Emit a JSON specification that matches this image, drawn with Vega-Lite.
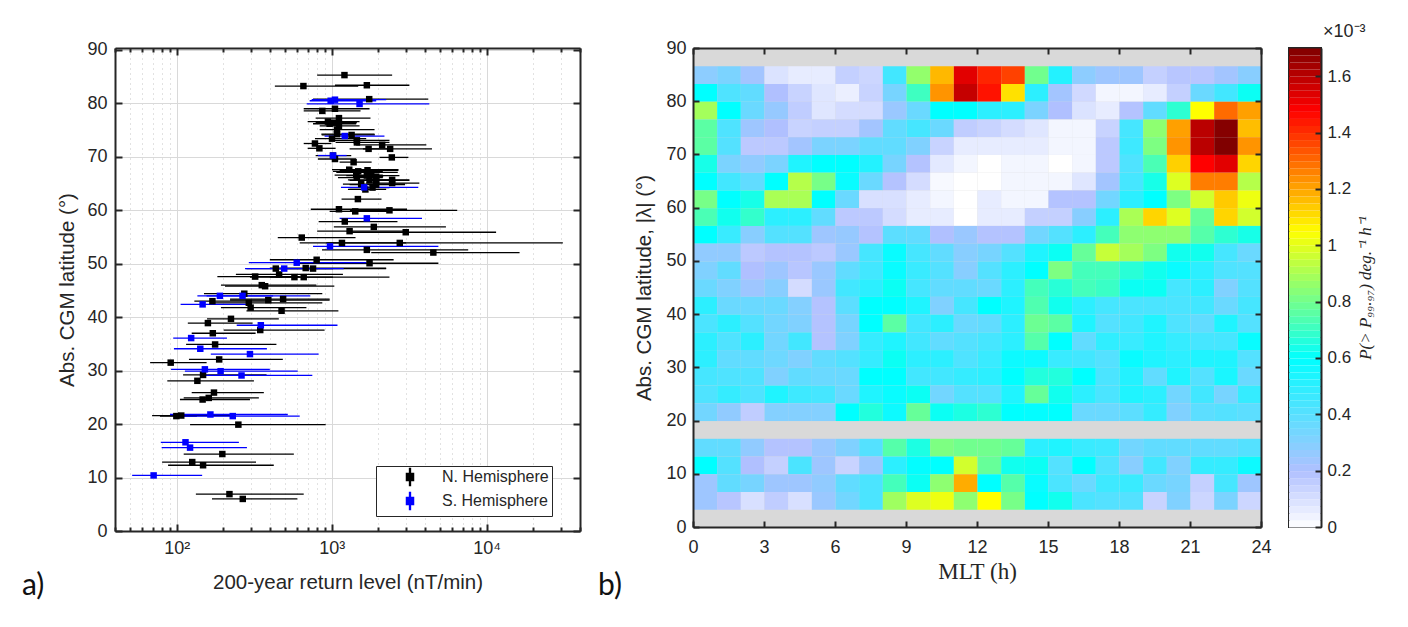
{"$schema":"https://vega.github.io/schema/vega-lite/v6.json","background":"white","padding":{"left":21,"top":22,"right":2,"bottom":2},"spacing":16,
"config":{"font":"Liberation Sans","view":{"stroke":null},"axis":{"labelFont":"Liberation Sans","titleFont":"Liberation Sans","labelFontSize":18,"titleFontSize":20.5,"labelColor":"#262626","titleColor":"#262626","titleFontWeight":"normal","domainColor":"#262626","domainWidth":2,"tickColor":"#262626","tickWidth":2,"labelFlush":false,"labelOverlap":false,"labelBound":false}},
"datasets":{
"pts":[
{"hemi":"N. Hemisphere","lat":85.3,"rl":1209,"lo":806,"hi":2455},{"hemi":"N. Hemisphere","lat":83.25,"rl":657,"lo":430,"hi":1483},{"hemi":"N. Hemisphere","lat":83.4,"rl":1686,"lo":1050,"hi":3172},{"hemi":"N. Hemisphere","lat":80.8,"rl":1746,"lo":758,"hi":4200},{"hemi":"N. Hemisphere","lat":79,"rl":1050,"lo":660,"hi":1755},{"hemi":"N. Hemisphere","lat":78.6,"rl":870,"lo":660,"hi":1535},{"hemi":"N. Hemisphere","lat":77.25,"rl":1114,"lo":788,"hi":1780},{"hemi":"N. Hemisphere","lat":76.6,"rl":946,"lo":700,"hi":1513},{"hemi":"N. Hemisphere","lat":76.4,"rl":1020,"lo":788,"hi":1454},{"hemi":"N. Hemisphere","lat":76.2,"rl":970,"lo":758,"hi":1440},{"hemi":"N. Hemisphere","lat":75.8,"rl":1114,"lo":837,"hi":1513},{"hemi":"N. Hemisphere","lat":75.1,"rl":1082,"lo":837,"hi":1890},{"hemi":"N. Hemisphere","lat":74.25,"rl":1082,"lo":858,"hi":1890},{"hemi":"N. Hemisphere","lat":74.1,"rl":1344,"lo":862,"hi":1899},{"hemi":"N. Hemisphere","lat":73.4,"rl":1005,"lo":780,"hi":1670},{"hemi":"N. Hemisphere","lat":73.1,"rl":1454,"lo":970,"hi":2359},{"hemi":"N. Hemisphere","lat":72.7,"rl":1454,"lo":1060,"hi":2359},{"hemi":"N. Hemisphere","lat":72.5,"rl":780,"lo":660,"hi":995},{"hemi":"N. Hemisphere","lat":72.25,"rl":2117,"lo":1440,"hi":4080},{"hemi":"N. Hemisphere","lat":71.6,"rl":833,"lo":700,"hi":1060},{"hemi":"N. Hemisphere","lat":71.5,"rl":1730,"lo":1305,"hi":2479},{"hemi":"N. Hemisphere","lat":71.5,"rl":2383,"lo":1590,"hi":4436},{"hemi":"N. Hemisphere","lat":70.25,"rl":1020,"lo":788,"hi":1337},{"hemi":"N. Hemisphere","lat":69.9,"rl":2443,"lo":2035,"hi":3125},{"hemi":"N. Hemisphere","lat":69.6,"rl":1050,"lo":816,"hi":1440},{"hemi":"N. Hemisphere","lat":69,"rl":1385,"lo":1125,"hi":1810},{"hemi":"N. Hemisphere","lat":67.6,"rl":1298,"lo":1005,"hi":2695},{"hemi":"N. Hemisphere","lat":67.3,"rl":1483,"lo":1020,"hi":2138},{"hemi":"N. Hemisphere","lat":67.5,"rl":1703,"lo":1125,"hi":2695},{"hemi":"N. Hemisphere","lat":67.1,"rl":1800,"lo":1071,"hi":2670},{"hemi":"N. Hemisphere","lat":66.6,"rl":1440,"lo":1045,"hi":2138},{"hemi":"N. Hemisphere","lat":66.5,"rl":1686,"lo":1242,"hi":2736},{"hemi":"N. Hemisphere","lat":66.3,"rl":1937,"lo":1371,"hi":2150},{"hemi":"N. Hemisphere","lat":66.1,"rl":1454,"lo":1098,"hi":2138},{"hemi":"N. Hemisphere","lat":65.7,"rl":1755,"lo":1273,"hi":2479},{"hemi":"N. Hemisphere","lat":65.6,"rl":1937,"lo":1305,"hi":3172},{"hemi":"N. Hemisphere","lat":65.7,"rl":2455,"lo":1670,"hi":3172},{"hemi":"N. Hemisphere","lat":65.1,"rl":2455,"lo":1670,"hi":3678},{"hemi":"N. Hemisphere","lat":64.9,"rl":1550,"lo":1182,"hi":2975},{"hemi":"N. Hemisphere","lat":64.8,"rl":1937,"lo":1305,"hi":2975},{"hemi":"N. Hemisphere","lat":63.9,"rl":1650,"lo":1273,"hi":2246},{"hemi":"N. Hemisphere","lat":64.25,"rl":1834,"lo":1305,"hi":2359},{"hemi":"N. Hemisphere","lat":62.1,"rl":1476,"lo":1158,"hi":2096},{"hemi":"N. Hemisphere","lat":60.2,"rl":1114,"lo":733,"hi":3064},{"hemi":"N. Hemisphere","lat":59.8,"rl":1419,"lo":970,"hi":2359},{"hemi":"N. Hemisphere","lat":60,"rl":2359,"lo":1311,"hi":6454},{"hemi":"N. Hemisphere","lat":57.9,"rl":1215,"lo":824,"hi":2657},{"hemi":"N. Hemisphere","lat":56.9,"rl":1870,"lo":1033,"hi":5458},{"hemi":"N. Hemisphere","lat":56.1,"rl":1305,"lo":806,"hi":3020},{"hemi":"N. Hemisphere","lat":55.9,"rl":3005,"lo":1337,"hi":11500},{"hemi":"N. Hemisphere","lat":54.9,"rl":641,"lo":449,"hi":1425},{"hemi":"N. Hemisphere","lat":53.9,"rl":1165,"lo":622,"hi":3020},{"hemi":"N. Hemisphere","lat":53.9,"rl":2750,"lo":923,"hi":31000},{"hemi":"N. Hemisphere","lat":52.6,"rl":1686,"lo":866,"hi":7600},{"hemi":"N. Hemisphere","lat":52.1,"rl":4527,"lo":1800,"hi":16300},{"hemi":"N. Hemisphere","lat":50.75,"rl":800,"lo":399,"hi":2510},{"hemi":"N. Hemisphere","lat":50.1,"rl":1755,"lo":592,"hi":4880},{"hemi":"N. Hemisphere","lat":49.1,"rl":436,"lo":282,"hi":1020},{"hemi":"N. Hemisphere","lat":49.2,"rl":680,"lo":399,"hi":2246},{"hemi":"N. Hemisphere","lat":49.1,"rl":758,"lo":440,"hi":2246},{"hemi":"N. Hemisphere","lat":47.6,"rl":321,"lo":183,"hi":622},{"hemi":"N. Hemisphere","lat":48,"rl":458,"lo":241,"hi":1182},{"hemi":"N. Hemisphere","lat":47.5,"rl":575,"lo":297,"hi":2359},{"hemi":"N. Hemisphere","lat":47.5,"rl":660,"lo":399,"hi":1020},{"hemi":"N. Hemisphere","lat":46,"rl":354,"lo":193,"hi":796},{"hemi":"N. Hemisphere","lat":45.8,"rl":372,"lo":205,"hi":1040},{"hemi":"N. Hemisphere","lat":44.4,"rl":273,"lo":150,"hi":870},{"hemi":"N. Hemisphere","lat":43.2,"rl":390,"lo":221,"hi":970},{"hemi":"N. Hemisphere","lat":43.4,"rl":486,"lo":221,"hi":970},{"hemi":"N. Hemisphere","lat":43,"rl":170,"lo":130,"hi":380},{"hemi":"N. Hemisphere","lat":42.7,"rl":292,"lo":172,"hi":870},{"hemi":"N. Hemisphere","lat":41.8,"rl":300,"lo":193,"hi":687},{"hemi":"N. Hemisphere","lat":41.2,"rl":475,"lo":282,"hi":1105},{"hemi":"N. Hemisphere","lat":39.7,"rl":224,"lo":157,"hi":456},{"hemi":"N. Hemisphere","lat":38.9,"rl":159,"lo":118,"hi":309},{"hemi":"N. Hemisphere","lat":37.6,"rl":346,"lo":201,"hi":900},{"hemi":"N. Hemisphere","lat":37,"rl":171,"lo":125,"hi":323},{"hemi":"N. Hemisphere","lat":34.9,"rl":177,"lo":115,"hi":440},{"hemi":"N. Hemisphere","lat":32.1,"rl":188,"lo":120,"hi":484},{"hemi":"N. Hemisphere","lat":31.5,"rl":91.5,"lo":67.4,"hi":156},{"hemi":"N. Hemisphere","lat":29.2,"rl":148,"lo":110,"hi":380},{"hemi":"N. Hemisphere","lat":28.1,"rl":136,"lo":87,"hi":315},{"hemi":"N. Hemisphere","lat":25.9,"rl":174,"lo":125,"hi":365},{"hemi":"N. Hemisphere","lat":24.9,"rl":161,"lo":111,"hi":339},{"hemi":"N. Hemisphere","lat":24.6,"rl":147,"lo":105,"hi":297},{"hemi":"N. Hemisphere","lat":21.6,"rl":107,"lo":69.4,"hi":232},{"hemi":"N. Hemisphere","lat":21.5,"rl":99.5,"lo":78,"hi":135},{"hemi":"N. Hemisphere","lat":19.9,"rl":250,"lo":122,"hi":915},{"hemi":"N. Hemisphere","lat":14.4,"rl":197,"lo":111,"hi":570},{"hemi":"N. Hemisphere","lat":12.9,"rl":126,"lo":80.5,"hi":325},{"hemi":"N. Hemisphere","lat":12.3,"rl":148,"lo":88,"hi":423},{"hemi":"N. Hemisphere","lat":6.9,"rl":219,"lo":133,"hi":660},{"hemi":"N. Hemisphere","lat":6,"rl":267,"lo":169,"hi":600},
{"hemi":"S. Hemisphere","lat":80.7,"rl":1050,"lo":743,"hi":2246},{"hemi":"S. Hemisphere","lat":80.5,"rl":985,"lo":721,"hi":1937},{"hemi":"S. Hemisphere","lat":79.9,"rl":1513,"lo":690,"hi":4265},{"hemi":"S. Hemisphere","lat":73.9,"rl":1215,"lo":900,"hi":2190},{"hemi":"S. Hemisphere","lat":70.25,"rl":1020,"lo":816,"hi":1248},{"hemi":"S. Hemisphere","lat":64.3,"rl":1620,"lo":1148,"hi":3620},{"hemi":"S. Hemisphere","lat":58.5,"rl":1686,"lo":1125,"hi":3825},{"hemi":"S. Hemisphere","lat":53.25,"rl":975,"lo":758,"hi":4880},{"hemi":"S. Hemisphere","lat":50.2,"rl":595,"lo":292,"hi":1670},{"hemi":"S. Hemisphere","lat":49.1,"rl":494,"lo":276,"hi":1195},{"hemi":"S. Hemisphere","lat":44,"rl":190,"lo":136,"hi":419},{"hemi":"S. Hemisphere","lat":44,"rl":266,"lo":156,"hi":728},{"hemi":"S. Hemisphere","lat":42.4,"rl":147,"lo":106,"hi":282},{"hemi":"S. Hemisphere","lat":38.5,"rl":349,"lo":244,"hi":1090},{"hemi":"S. Hemisphere","lat":36.1,"rl":124,"lo":95,"hi":211},{"hemi":"S. Hemisphere","lat":34.1,"rl":142,"lo":96,"hi":382},{"hemi":"S. Hemisphere","lat":33.1,"rl":297,"lo":166,"hi":824},{"hemi":"S. Hemisphere","lat":30.25,"rl":152,"lo":92,"hi":399},{"hemi":"S. Hemisphere","lat":29.9,"rl":192,"lo":113,"hi":604},{"hemi":"S. Hemisphere","lat":29.1,"rl":262,"lo":141,"hi":750},{"hemi":"S. Hemisphere","lat":21.8,"rl":165,"lo":90.6,"hi":521},{"hemi":"S. Hemisphere","lat":21.5,"rl":230,"lo":100,"hi":622},{"hemi":"S. Hemisphere","lat":16.6,"rl":114,"lo":79,"hi":252},{"hemi":"S. Hemisphere","lat":15.6,"rl":122,"lo":80,"hi":284},{"hemi":"S. Hemisphere","lat":10.4,"rl":71,"lo":51.6,"hi":146}
],
"cells":[
{"mlt":0,"lat":85,"p":0.28},{"mlt":1,"lat":85,"p":0.32},{"mlt":2,"lat":85,"p":0.23},{"mlt":3,"lat":85,"p":0.09},{"mlt":4,"lat":85,"p":0.06},{"mlt":5,"lat":85,"p":0.06},{"mlt":6,"lat":85,"p":0.15},{"mlt":7,"lat":85,"p":0.13},{"mlt":8,"lat":85,"p":0.45},{"mlt":9,"lat":85,"p":0.86},{"mlt":10,"lat":85,"p":1.17},{"mlt":11,"lat":85,"p":1.53},{"mlt":12,"lat":85,"p":1.42},{"mlt":13,"lat":85,"p":1.37},{"mlt":14,"lat":85,"p":0.8},{"mlt":15,"lat":85,"p":0.52},{"mlt":16,"lat":85,"p":0.28},{"mlt":17,"lat":85,"p":0.24},{"mlt":18,"lat":85,"p":0.24},{"mlt":19,"lat":85,"p":0.15},{"mlt":20,"lat":85,"p":0.18},{"mlt":21,"lat":85,"p":0.18},{"mlt":22,"lat":85,"p":0.23},{"mlt":23,"lat":85,"p":0.29},
{"mlt":0,"lat":81.67,"p":0.6},{"mlt":1,"lat":81.67,"p":0.42},{"mlt":2,"lat":81.67,"p":0.38},{"mlt":3,"lat":81.67,"p":0.2},{"mlt":4,"lat":81.67,"p":0.14},{"mlt":5,"lat":81.67,"p":0.08},{"mlt":6,"lat":81.67,"p":0.05},{"mlt":7,"lat":81.67,"p":0.14},{"mlt":8,"lat":81.67,"p":0.33},{"mlt":9,"lat":81.67,"p":0.71},{"mlt":10,"lat":81.67,"p":1.23},{"mlt":11,"lat":81.67,"p":1.58},{"mlt":12,"lat":81.67,"p":1.45},{"mlt":13,"lat":81.67,"p":1.1},{"mlt":14,"lat":81.67,"p":0.5},{"mlt":15,"lat":81.67,"p":0.23},{"mlt":16,"lat":81.67,"p":0.12},{"mlt":17,"lat":81.67,"p":0.03},{"mlt":18,"lat":81.67,"p":0.03},{"mlt":19,"lat":81.67,"p":0.06},{"mlt":20,"lat":81.67,"p":0.15},{"mlt":21,"lat":81.67,"p":0.36},{"mlt":22,"lat":81.67,"p":0.45},{"mlt":23,"lat":81.67,"p":0.62},
{"mlt":0,"lat":78.33,"p":0.89},{"mlt":1,"lat":78.33,"p":0.6},{"mlt":2,"lat":78.33,"p":0.36},{"mlt":3,"lat":78.33,"p":0.26},{"mlt":4,"lat":78.33,"p":0.16},{"mlt":5,"lat":78.33,"p":0.08},{"mlt":6,"lat":78.33,"p":0.11},{"mlt":7,"lat":78.33,"p":0.11},{"mlt":8,"lat":78.33,"p":0.25},{"mlt":9,"lat":78.33,"p":0.36},{"mlt":10,"lat":78.33,"p":0.6},{"mlt":11,"lat":78.33,"p":0.6},{"mlt":12,"lat":78.33,"p":0.5},{"mlt":13,"lat":78.33,"p":0.5},{"mlt":14,"lat":78.33,"p":0.32},{"mlt":15,"lat":78.33,"p":0.2},{"mlt":16,"lat":78.33,"p":0.09},{"mlt":17,"lat":78.33,"p":0.06},{"mlt":18,"lat":78.33,"p":0.19},{"mlt":19,"lat":78.33,"p":0.38},{"mlt":20,"lat":78.33,"p":0.68},{"mlt":21,"lat":78.33,"p":1.05},{"mlt":22,"lat":78.33,"p":1.3},{"mlt":23,"lat":78.33,"p":1.21},
{"mlt":0,"lat":75,"p":0.76},{"mlt":1,"lat":75,"p":0.42},{"mlt":2,"lat":75,"p":0.24},{"mlt":3,"lat":75,"p":0.2},{"mlt":4,"lat":75,"p":0.14},{"mlt":5,"lat":75,"p":0.15},{"mlt":6,"lat":75,"p":0.15},{"mlt":7,"lat":75,"p":0.23},{"mlt":8,"lat":75,"p":0.38},{"mlt":9,"lat":75,"p":0.44},{"mlt":10,"lat":75,"p":0.36},{"mlt":11,"lat":75,"p":0.16},{"mlt":12,"lat":75,"p":0.14},{"mlt":13,"lat":75,"p":0.11},{"mlt":14,"lat":75,"p":0.08},{"mlt":15,"lat":75,"p":0.03},{"mlt":16,"lat":75,"p":0.03},{"mlt":17,"lat":75,"p":0.14},{"mlt":18,"lat":75,"p":0.44},{"mlt":19,"lat":75,"p":0.85},{"mlt":20,"lat":75,"p":1.21},{"mlt":21,"lat":75,"p":1.6},{"mlt":22,"lat":75,"p":1.69},{"mlt":23,"lat":75,"p":1.16},
{"mlt":0,"lat":71.67,"p":0.76},{"mlt":1,"lat":71.67,"p":0.41},{"mlt":2,"lat":71.67,"p":0.17},{"mlt":3,"lat":71.67,"p":0.17},{"mlt":4,"lat":71.67,"p":0.23},{"mlt":5,"lat":71.67,"p":0.32},{"mlt":6,"lat":71.67,"p":0.32},{"mlt":7,"lat":71.67,"p":0.38},{"mlt":8,"lat":71.67,"p":0.38},{"mlt":9,"lat":71.67,"p":0.31},{"mlt":10,"lat":71.67,"p":0.14},{"mlt":11,"lat":71.67,"p":0.06},{"mlt":12,"lat":71.67,"p":0.06},{"mlt":13,"lat":71.67,"p":0.06},{"mlt":14,"lat":71.67,"p":0.06},{"mlt":15,"lat":71.67,"p":0.03},{"mlt":16,"lat":71.67,"p":0.03},{"mlt":17,"lat":71.67,"p":0.17},{"mlt":18,"lat":71.67,"p":0.46},{"mlt":19,"lat":71.67,"p":0.82},{"mlt":20,"lat":71.67,"p":1.23},{"mlt":21,"lat":71.67,"p":1.6},{"mlt":22,"lat":71.67,"p":1.7},{"mlt":23,"lat":71.67,"p":1.23},
{"mlt":0,"lat":68.33,"p":0.64},{"mlt":1,"lat":68.33,"p":0.32},{"mlt":2,"lat":68.33,"p":0.27},{"mlt":3,"lat":68.33,"p":0.32},{"mlt":4,"lat":68.33,"p":0.53},{"mlt":5,"lat":68.33,"p":0.6},{"mlt":6,"lat":68.33,"p":0.6},{"mlt":7,"lat":68.33,"p":0.52},{"mlt":8,"lat":68.33,"p":0.33},{"mlt":9,"lat":68.33,"p":0.19},{"mlt":10,"lat":68.33,"p":0.07},{"mlt":11,"lat":68.33,"p":0.03},{"mlt":12,"lat":68.33,"p":0},{"mlt":13,"lat":68.33,"p":0.03},{"mlt":14,"lat":68.33,"p":0.03},{"mlt":15,"lat":68.33,"p":0},{"mlt":16,"lat":68.33,"p":0.03},{"mlt":17,"lat":68.33,"p":0.17},{"mlt":18,"lat":68.33,"p":0.42},{"mlt":19,"lat":68.33,"p":0.73},{"mlt":20,"lat":68.33,"p":1.13},{"mlt":21,"lat":68.33,"p":1.48},{"mlt":22,"lat":68.33,"p":1.53},{"mlt":23,"lat":68.33,"p":1.12},
{"mlt":0,"lat":65,"p":0.6},{"mlt":1,"lat":65,"p":0.45},{"mlt":2,"lat":65,"p":0.38},{"mlt":3,"lat":65,"p":0.6},{"mlt":4,"lat":65,"p":0.92},{"mlt":5,"lat":65,"p":0.81},{"mlt":6,"lat":65,"p":0.58},{"mlt":7,"lat":65,"p":0.36},{"mlt":8,"lat":65,"p":0.19},{"mlt":9,"lat":65,"p":0.11},{"mlt":10,"lat":65,"p":0.02},{"mlt":11,"lat":65,"p":0},{"mlt":12,"lat":65,"p":0},{"mlt":13,"lat":65,"p":0.03},{"mlt":14,"lat":65,"p":0.03},{"mlt":15,"lat":65,"p":0.03},{"mlt":16,"lat":65,"p":0.08},{"mlt":17,"lat":65,"p":0.23},{"mlt":18,"lat":65,"p":0.44},{"mlt":19,"lat":65,"p":0.64},{"mlt":20,"lat":65,"p":0.99},{"mlt":21,"lat":65,"p":1.27},{"mlt":22,"lat":65,"p":1.27},{"mlt":23,"lat":65,"p":0.92},
{"mlt":0,"lat":61.67,"p":0.81},{"mlt":1,"lat":61.67,"p":0.6},{"mlt":2,"lat":61.67,"p":0.64},{"mlt":3,"lat":61.67,"p":0.9},{"mlt":4,"lat":61.67,"p":0.9},{"mlt":5,"lat":61.67,"p":0.6},{"mlt":6,"lat":61.67,"p":0.36},{"mlt":7,"lat":61.67,"p":0.1},{"mlt":8,"lat":61.67,"p":0.1},{"mlt":9,"lat":61.67,"p":0.06},{"mlt":10,"lat":61.67,"p":0.03},{"mlt":11,"lat":61.67,"p":0},{"mlt":12,"lat":61.67,"p":0.06},{"mlt":13,"lat":61.67,"p":0.03},{"mlt":14,"lat":61.67,"p":0.03},{"mlt":15,"lat":61.67,"p":0.19},{"mlt":16,"lat":61.67,"p":0.19},{"mlt":17,"lat":61.67,"p":0.34},{"mlt":18,"lat":61.67,"p":0.5},{"mlt":19,"lat":61.67,"p":0.6},{"mlt":20,"lat":61.67,"p":0.82},{"mlt":21,"lat":61.67,"p":0.97},{"mlt":22,"lat":61.67,"p":1.14},{"mlt":23,"lat":61.67,"p":1.02},
{"mlt":0,"lat":58.33,"p":0.73},{"mlt":1,"lat":58.33,"p":0.63},{"mlt":2,"lat":58.33,"p":0.69},{"mlt":3,"lat":58.33,"p":0.5},{"mlt":4,"lat":58.33,"p":0.5},{"mlt":5,"lat":58.33,"p":0.38},{"mlt":6,"lat":58.33,"p":0.17},{"mlt":7,"lat":58.33,"p":0.17},{"mlt":8,"lat":58.33,"p":0.11},{"mlt":9,"lat":58.33,"p":0.06},{"mlt":10,"lat":58.33,"p":0.06},{"mlt":11,"lat":58.33,"p":0},{"mlt":12,"lat":58.33,"p":0.06},{"mlt":13,"lat":58.33,"p":0.06},{"mlt":14,"lat":58.33,"p":0.15},{"mlt":15,"lat":58.33,"p":0.15},{"mlt":16,"lat":58.33,"p":0.29},{"mlt":17,"lat":58.33,"p":0.5},{"mlt":18,"lat":58.33,"p":0.9},{"mlt":19,"lat":58.33,"p":1.12},{"mlt":20,"lat":58.33,"p":0.99},{"mlt":21,"lat":58.33,"p":0.78},{"mlt":22,"lat":58.33,"p":1.12},{"mlt":23,"lat":58.33,"p":0.97},
{"mlt":0,"lat":55,"p":0.6},{"mlt":1,"lat":55,"p":0.47},{"mlt":2,"lat":55,"p":0.29},{"mlt":3,"lat":55,"p":0.41},{"mlt":4,"lat":55,"p":0.41},{"mlt":5,"lat":55,"p":0.24},{"mlt":6,"lat":55,"p":0.26},{"mlt":7,"lat":55,"p":0.19},{"mlt":8,"lat":55,"p":0.39},{"mlt":9,"lat":55,"p":0.38},{"mlt":10,"lat":55,"p":0.2},{"mlt":11,"lat":55,"p":0.25},{"mlt":12,"lat":55,"p":0.19},{"mlt":13,"lat":55,"p":0.19},{"mlt":14,"lat":55,"p":0.34},{"mlt":15,"lat":55,"p":0.41},{"mlt":16,"lat":55,"p":0.5},{"mlt":17,"lat":55,"p":0.72},{"mlt":18,"lat":55,"p":0.85},{"mlt":19,"lat":55,"p":0.85},{"mlt":20,"lat":55,"p":0.85},{"mlt":21,"lat":55,"p":0.75},{"mlt":22,"lat":55,"p":0.68},{"mlt":23,"lat":55,"p":0.64},
{"mlt":0,"lat":51.67,"p":0.27},{"mlt":1,"lat":51.67,"p":0.27},{"mlt":2,"lat":51.67,"p":0.17},{"mlt":3,"lat":51.67,"p":0.19},{"mlt":4,"lat":51.67,"p":0.19},{"mlt":5,"lat":51.67,"p":0.17},{"mlt":6,"lat":51.67,"p":0.25},{"mlt":7,"lat":51.67,"p":0.44},{"mlt":8,"lat":51.67,"p":0.58},{"mlt":9,"lat":51.67,"p":0.44},{"mlt":10,"lat":51.67,"p":0.38},{"mlt":11,"lat":51.67,"p":0.29},{"mlt":12,"lat":51.67,"p":0.33},{"mlt":13,"lat":51.67,"p":0.41},{"mlt":14,"lat":51.67,"p":0.53},{"mlt":15,"lat":51.67,"p":0.62},{"mlt":16,"lat":51.67,"p":0.78},{"mlt":17,"lat":51.67,"p":0.95},{"mlt":18,"lat":51.67,"p":0.89},{"mlt":19,"lat":51.67,"p":0.82},{"mlt":20,"lat":51.67,"p":0.63},{"mlt":21,"lat":51.67,"p":0.63},{"mlt":22,"lat":51.67,"p":0.44},{"mlt":23,"lat":51.67,"p":0.36},
{"mlt":0,"lat":48.33,"p":0.31},{"mlt":1,"lat":48.33,"p":0.38},{"mlt":2,"lat":48.33,"p":0.2},{"mlt":3,"lat":48.33,"p":0.24},{"mlt":4,"lat":48.33,"p":0.18},{"mlt":5,"lat":48.33,"p":0.25},{"mlt":6,"lat":48.33,"p":0.38},{"mlt":7,"lat":48.33,"p":0.45},{"mlt":8,"lat":48.33,"p":0.58},{"mlt":9,"lat":48.33,"p":0.47},{"mlt":10,"lat":48.33,"p":0.41},{"mlt":11,"lat":48.33,"p":0.29},{"mlt":12,"lat":48.33,"p":0.41},{"mlt":13,"lat":48.33,"p":0.5},{"mlt":14,"lat":48.33,"p":0.6},{"mlt":15,"lat":48.33,"p":0.82},{"mlt":16,"lat":48.33,"p":0.72},{"mlt":17,"lat":48.33,"p":0.72},{"mlt":18,"lat":48.33,"p":0.67},{"mlt":19,"lat":48.33,"p":0.63},{"mlt":20,"lat":48.33,"p":0.58},{"mlt":21,"lat":48.33,"p":0.5},{"mlt":22,"lat":48.33,"p":0.42},{"mlt":23,"lat":48.33,"p":0.41},
{"mlt":0,"lat":45,"p":0.36},{"mlt":1,"lat":45,"p":0.31},{"mlt":2,"lat":45,"p":0.24},{"mlt":3,"lat":45,"p":0.29},{"mlt":4,"lat":45,"p":0.11},{"mlt":5,"lat":45,"p":0.25},{"mlt":6,"lat":45,"p":0.45},{"mlt":7,"lat":45,"p":0.5},{"mlt":8,"lat":45,"p":0.62},{"mlt":9,"lat":45,"p":0.44},{"mlt":10,"lat":45,"p":0.38},{"mlt":11,"lat":45,"p":0.38},{"mlt":12,"lat":45,"p":0.36},{"mlt":13,"lat":45,"p":0.5},{"mlt":14,"lat":45,"p":0.72},{"mlt":15,"lat":45,"p":0.67},{"mlt":16,"lat":45,"p":0.72},{"mlt":17,"lat":45,"p":0.7},{"mlt":18,"lat":45,"p":0.62},{"mlt":19,"lat":45,"p":0.62},{"mlt":20,"lat":45,"p":0.44},{"mlt":21,"lat":45,"p":0.5},{"mlt":22,"lat":45,"p":0.31},{"mlt":23,"lat":45,"p":0.41},
{"mlt":0,"lat":41.67,"p":0.5},{"mlt":1,"lat":41.67,"p":0.36},{"mlt":2,"lat":41.67,"p":0.36},{"mlt":3,"lat":41.67,"p":0.36},{"mlt":4,"lat":41.67,"p":0.3},{"mlt":5,"lat":41.67,"p":0.19},{"mlt":6,"lat":41.67,"p":0.39},{"mlt":7,"lat":41.67,"p":0.6},{"mlt":8,"lat":41.67,"p":0.6},{"mlt":9,"lat":41.67,"p":0.53},{"mlt":10,"lat":41.67,"p":0.31},{"mlt":11,"lat":41.67,"p":0.44},{"mlt":12,"lat":41.67,"p":0.6},{"mlt":13,"lat":41.67,"p":0.53},{"mlt":14,"lat":41.67,"p":0.74},{"mlt":15,"lat":41.67,"p":0.63},{"mlt":16,"lat":41.67,"p":0.5},{"mlt":17,"lat":41.67,"p":0.44},{"mlt":18,"lat":41.67,"p":0.43},{"mlt":19,"lat":41.67,"p":0.43},{"mlt":20,"lat":41.67,"p":0.43},{"mlt":21,"lat":41.67,"p":0.45},{"mlt":22,"lat":41.67,"p":0.36},{"mlt":23,"lat":41.67,"p":0.44},
{"mlt":0,"lat":38.33,"p":0.43},{"mlt":1,"lat":38.33,"p":0.5},{"mlt":2,"lat":38.33,"p":0.41},{"mlt":3,"lat":38.33,"p":0.34},{"mlt":4,"lat":38.33,"p":0.31},{"mlt":5,"lat":38.33,"p":0.19},{"mlt":6,"lat":38.33,"p":0.33},{"mlt":7,"lat":38.33,"p":0.6},{"mlt":8,"lat":38.33,"p":0.76},{"mlt":9,"lat":38.33,"p":0.45},{"mlt":10,"lat":38.33,"p":0.5},{"mlt":11,"lat":38.33,"p":0.36},{"mlt":12,"lat":38.33,"p":0.38},{"mlt":13,"lat":38.33,"p":0.5},{"mlt":14,"lat":38.33,"p":0.79},{"mlt":15,"lat":38.33,"p":0.76},{"mlt":16,"lat":38.33,"p":0.53},{"mlt":17,"lat":38.33,"p":0.41},{"mlt":18,"lat":38.33,"p":0.45},{"mlt":19,"lat":38.33,"p":0.53},{"mlt":20,"lat":38.33,"p":0.42},{"mlt":21,"lat":38.33,"p":0.38},{"mlt":22,"lat":38.33,"p":0.53},{"mlt":23,"lat":38.33,"p":0.41},
{"mlt":0,"lat":35,"p":0.5},{"mlt":1,"lat":35,"p":0.42},{"mlt":2,"lat":35,"p":0.5},{"mlt":3,"lat":35,"p":0.34},{"mlt":4,"lat":35,"p":0.45},{"mlt":5,"lat":35,"p":0.19},{"mlt":6,"lat":35,"p":0.31},{"mlt":7,"lat":35,"p":0.48},{"mlt":8,"lat":35,"p":0.53},{"mlt":9,"lat":35,"p":0.45},{"mlt":10,"lat":35,"p":0.38},{"mlt":11,"lat":35,"p":0.41},{"mlt":12,"lat":35,"p":0.44},{"mlt":13,"lat":35,"p":0.5},{"mlt":14,"lat":35,"p":0.75},{"mlt":15,"lat":35,"p":0.6},{"mlt":16,"lat":35,"p":0.38},{"mlt":17,"lat":35,"p":0.49},{"mlt":18,"lat":35,"p":0.47},{"mlt":19,"lat":35,"p":0.53},{"mlt":20,"lat":35,"p":0.48},{"mlt":21,"lat":35,"p":0.44},{"mlt":22,"lat":35,"p":0.44},{"mlt":23,"lat":35,"p":0.58},
{"mlt":0,"lat":31.67,"p":0.5},{"mlt":1,"lat":31.67,"p":0.38},{"mlt":2,"lat":31.67,"p":0.38},{"mlt":3,"lat":31.67,"p":0.35},{"mlt":4,"lat":31.67,"p":0.31},{"mlt":5,"lat":31.67,"p":0.38},{"mlt":6,"lat":31.67,"p":0.41},{"mlt":7,"lat":31.67,"p":0.48},{"mlt":8,"lat":31.67,"p":0.62},{"mlt":9,"lat":31.67,"p":0.5},{"mlt":10,"lat":31.67,"p":0.5},{"mlt":11,"lat":31.67,"p":0.42},{"mlt":12,"lat":31.67,"p":0.47},{"mlt":13,"lat":31.67,"p":0.57},{"mlt":14,"lat":31.67,"p":0.57},{"mlt":15,"lat":31.67,"p":0.47},{"mlt":16,"lat":31.67,"p":0.45},{"mlt":17,"lat":31.67,"p":0.41},{"mlt":18,"lat":31.67,"p":0.58},{"mlt":19,"lat":31.67,"p":0.53},{"mlt":20,"lat":31.67,"p":0.5},{"mlt":21,"lat":31.67,"p":0.53},{"mlt":22,"lat":31.67,"p":0.53},{"mlt":23,"lat":31.67,"p":0.41},
{"mlt":0,"lat":28.33,"p":0.44},{"mlt":1,"lat":28.33,"p":0.42},{"mlt":2,"lat":28.33,"p":0.42},{"mlt":3,"lat":28.33,"p":0.31},{"mlt":4,"lat":28.33,"p":0.38},{"mlt":5,"lat":28.33,"p":0.36},{"mlt":6,"lat":28.33,"p":0.36},{"mlt":7,"lat":28.33,"p":0.6},{"mlt":8,"lat":28.33,"p":0.6},{"mlt":9,"lat":28.33,"p":0.45},{"mlt":10,"lat":28.33,"p":0.45},{"mlt":11,"lat":28.33,"p":0.48},{"mlt":12,"lat":28.33,"p":0.5},{"mlt":13,"lat":28.33,"p":0.6},{"mlt":14,"lat":28.33,"p":0.66},{"mlt":15,"lat":28.33,"p":0.66},{"mlt":16,"lat":28.33,"p":0.6},{"mlt":17,"lat":28.33,"p":0.43},{"mlt":18,"lat":28.33,"p":0.52},{"mlt":19,"lat":28.33,"p":0.38},{"mlt":20,"lat":28.33,"p":0.53},{"mlt":21,"lat":28.33,"p":0.41},{"mlt":22,"lat":28.33,"p":0.54},{"mlt":23,"lat":28.33,"p":0.36},
{"mlt":0,"lat":25,"p":0.42},{"mlt":1,"lat":25,"p":0.48},{"mlt":2,"lat":25,"p":0.42},{"mlt":3,"lat":25,"p":0.53},{"mlt":4,"lat":25,"p":0.46},{"mlt":5,"lat":25,"p":0.44},{"mlt":6,"lat":25,"p":0.36},{"mlt":7,"lat":25,"p":0.53},{"mlt":8,"lat":25,"p":0.58},{"mlt":9,"lat":25,"p":0.62},{"mlt":10,"lat":25,"p":0.34},{"mlt":11,"lat":25,"p":0.41},{"mlt":12,"lat":25,"p":0.41},{"mlt":13,"lat":25,"p":0.53},{"mlt":14,"lat":25,"p":0.78},{"mlt":15,"lat":25,"p":0.63},{"mlt":16,"lat":25,"p":0.5},{"mlt":17,"lat":25,"p":0.43},{"mlt":18,"lat":25,"p":0.53},{"mlt":19,"lat":25,"p":0.5},{"mlt":20,"lat":25,"p":0.34},{"mlt":21,"lat":25,"p":0.45},{"mlt":22,"lat":25,"p":0.33},{"mlt":23,"lat":25,"p":0.48},
{"mlt":0,"lat":21.67,"p":0.34},{"mlt":1,"lat":21.67,"p":0.27},{"mlt":2,"lat":21.67,"p":0.16},{"mlt":3,"lat":21.67,"p":0.3},{"mlt":4,"lat":21.67,"p":0.3},{"mlt":5,"lat":21.67,"p":0.3},{"mlt":6,"lat":21.67,"p":0.6},{"mlt":7,"lat":21.67,"p":0.66},{"mlt":8,"lat":21.67,"p":0.57},{"mlt":9,"lat":21.67,"p":0.78},{"mlt":10,"lat":21.67,"p":0.62},{"mlt":11,"lat":21.67,"p":0.65},{"mlt":12,"lat":21.67,"p":0.68},{"mlt":13,"lat":21.67,"p":0.6},{"mlt":14,"lat":21.67,"p":0.59},{"mlt":15,"lat":21.67,"p":0.6},{"mlt":16,"lat":21.67,"p":0.36},{"mlt":17,"lat":21.67,"p":0.36},{"mlt":18,"lat":21.67,"p":0.39},{"mlt":19,"lat":21.67,"p":0.48},{"mlt":20,"lat":21.67,"p":0.31},{"mlt":21,"lat":21.67,"p":0.39},{"mlt":22,"lat":21.67,"p":0.41},{"mlt":23,"lat":21.67,"p":0.39},
{"mlt":0,"lat":15,"p":0.38},{"mlt":1,"lat":15,"p":0.38},{"mlt":2,"lat":15,"p":0.27},{"mlt":3,"lat":15,"p":0.19},{"mlt":4,"lat":15,"p":0.19},{"mlt":5,"lat":15,"p":0.25},{"mlt":6,"lat":15,"p":0.31},{"mlt":7,"lat":15,"p":0.41},{"mlt":8,"lat":15,"p":0.75},{"mlt":9,"lat":15,"p":0.65},{"mlt":10,"lat":15,"p":0.82},{"mlt":11,"lat":15,"p":0.8},{"mlt":12,"lat":15,"p":0.8},{"mlt":13,"lat":15,"p":0.78},{"mlt":14,"lat":15,"p":0.5},{"mlt":15,"lat":15,"p":0.53},{"mlt":16,"lat":15,"p":0.47},{"mlt":17,"lat":15,"p":0.46},{"mlt":18,"lat":15,"p":0.34},{"mlt":19,"lat":15,"p":0.38},{"mlt":20,"lat":15,"p":0.38},{"mlt":21,"lat":15,"p":0.38},{"mlt":22,"lat":15,"p":0.38},{"mlt":23,"lat":15,"p":0.41},
{"mlt":0,"lat":11.67,"p":0.6},{"mlt":1,"lat":11.67,"p":0.41},{"mlt":2,"lat":11.67,"p":0.2},{"mlt":3,"lat":11.67,"p":0.15},{"mlt":4,"lat":11.67,"p":0.43},{"mlt":5,"lat":11.67,"p":0.24},{"mlt":6,"lat":11.67,"p":0.14},{"mlt":7,"lat":11.67,"p":0.25},{"mlt":8,"lat":11.67,"p":0.5},{"mlt":9,"lat":11.67,"p":0.59},{"mlt":10,"lat":11.67,"p":0.6},{"mlt":11,"lat":11.67,"p":0.97},{"mlt":12,"lat":11.67,"p":0.78},{"mlt":13,"lat":11.67,"p":0.63},{"mlt":14,"lat":11.67,"p":0.62},{"mlt":15,"lat":11.67,"p":0.41},{"mlt":16,"lat":11.67,"p":0.6},{"mlt":17,"lat":11.67,"p":0.42},{"mlt":18,"lat":11.67,"p":0.29},{"mlt":19,"lat":11.67,"p":0.45},{"mlt":20,"lat":11.67,"p":0.31},{"mlt":21,"lat":11.67,"p":0.48},{"mlt":22,"lat":11.67,"p":0.48},{"mlt":23,"lat":11.67,"p":0.57},
{"mlt":0,"lat":8.33,"p":0.24},{"mlt":1,"lat":8.33,"p":0.38},{"mlt":2,"lat":8.33,"p":0.33},{"mlt":3,"lat":8.33,"p":0.24},{"mlt":4,"lat":8.33,"p":0.24},{"mlt":5,"lat":8.33,"p":0.27},{"mlt":6,"lat":8.33,"p":0.38},{"mlt":7,"lat":8.33,"p":0.43},{"mlt":8,"lat":8.33,"p":0.72},{"mlt":9,"lat":8.33,"p":0.62},{"mlt":10,"lat":8.33,"p":0.85},{"mlt":11,"lat":8.33,"p":1.19},{"mlt":12,"lat":8.33,"p":0.6},{"mlt":13,"lat":8.33,"p":0.75},{"mlt":14,"lat":8.33,"p":0.58},{"mlt":15,"lat":8.33,"p":0.43},{"mlt":16,"lat":8.33,"p":0.36},{"mlt":17,"lat":8.33,"p":0.46},{"mlt":18,"lat":8.33,"p":0.47},{"mlt":19,"lat":8.33,"p":0.36},{"mlt":20,"lat":8.33,"p":0.33},{"mlt":21,"lat":8.33,"p":0.15},{"mlt":22,"lat":8.33,"p":0.44},{"mlt":23,"lat":8.33,"p":0.24},
{"mlt":0,"lat":5,"p":0.24},{"mlt":1,"lat":5,"p":0.18},{"mlt":2,"lat":5,"p":0.1},{"mlt":3,"lat":5,"p":0.16},{"mlt":4,"lat":5,"p":0.1},{"mlt":5,"lat":5,"p":0.25},{"mlt":6,"lat":5,"p":0.34},{"mlt":7,"lat":5,"p":0.43},{"mlt":8,"lat":5,"p":0.88},{"mlt":9,"lat":5,"p":0.99},{"mlt":10,"lat":5,"p":1.02},{"mlt":11,"lat":5,"p":0.85},{"mlt":12,"lat":5,"p":1.05},{"mlt":13,"lat":5,"p":0.81},{"mlt":14,"lat":5,"p":0.6},{"mlt":15,"lat":5,"p":0.63},{"mlt":16,"lat":5,"p":0.43},{"mlt":17,"lat":5,"p":0.41},{"mlt":18,"lat":5,"p":0.41},{"mlt":19,"lat":5,"p":0.14},{"mlt":20,"lat":5,"p":0.31},{"mlt":21,"lat":5,"p":0.13},{"mlt":22,"lat":5,"p":0.32},{"mlt":23,"lat":5,"p":0.13}
],
"ramp":[{"p":0.0125},{"p":0.0375},{"p":0.0625},{"p":0.0875},{"p":0.1125},{"p":0.1375},{"p":0.1625},{"p":0.1875},{"p":0.2125},{"p":0.2375},{"p":0.2625},{"p":0.2875},{"p":0.3125},{"p":0.3375},{"p":0.3625},{"p":0.3875},{"p":0.4125},{"p":0.4375},{"p":0.4625},{"p":0.4875},{"p":0.5125},{"p":0.5375},{"p":0.5625},{"p":0.5875},{"p":0.6125},{"p":0.6375},{"p":0.6625},{"p":0.6875},{"p":0.7125},{"p":0.7375},{"p":0.7625},{"p":0.7875},{"p":0.8125},{"p":0.8375},{"p":0.8625},{"p":0.8875},{"p":0.9125},{"p":0.9375},{"p":0.9625},{"p":0.9875},{"p":1.0125},{"p":1.0375},{"p":1.0625},{"p":1.0875},{"p":1.1125},{"p":1.1375},{"p":1.1625},{"p":1.1875},{"p":1.2125},{"p":1.2375},{"p":1.2625},{"p":1.2875},{"p":1.3125},{"p":1.3375},{"p":1.3625},{"p":1.3875},{"p":1.4125},{"p":1.4375},{"p":1.4625},{"p":1.4875},{"p":1.5125},{"p":1.5375},{"p":1.5625},{"p":1.5875},{"p":1.6125},{"p":1.6375},{"p":1.6625},{"p":1.6875}]
},
"hconcat":[
{"width":465,"height":483,"data":{"name":"pts"},
"title":{"text":"a)","orient":"bottom","anchor":"start","dx":-36,"offset":-22,"font":"Lato","fontSize":30,"fontWeight":"normal","color":"#111111"},
"layer":[
{"mark":{"type":"rule","strokeWidth":1.3},
"encoding":{
"x":{"field":"lo","type":"quantitative","scale":{"type":"log","domain":[40,40000],"nice":false},"axis":{"orient":"bottom","title":"200-year return level (nT/min)","values":[40,50,60,70,80,90,100,200,300,400,500,600,700,800,900,1000,2000,3000,4000,5000,6000,7000,8000,9000,10000,20000,30000,40000],"labelExpr":"datum.value==100?'10²':datum.value==1000?'10³':datum.value==10000?'10⁴':''","tickSize":{"condition":{"test":"indexof([100,1000,10000],datum.value)>=0","value":-7},"value":-4},"grid":true,"gridColor":{"condition":{"test":"indexof([100,1000,10000],datum.value)>=0","value":"#d9d9d9"},"value":"#c4c4c4"},"gridDash":{"condition":{"test":"indexof([100,1000,10000],datum.value)>=0","value":[]},"value":[1,4]},"labelPadding":15,"titlePadding":12}},
"x2":{"field":"hi"},
"y":{"field":"lat","type":"quantitative","scale":{"domain":[0,90.37],"nice":false},"axis":{"orient":"left","title":"Abs. CGM latitude (°)","values":[0,10,20,30,40,50,60,70,80,90],"tickSize":-7,"grid":true,"gridColor":"#d9d9d9","labelPadding":15,"titlePadding":9}},
"color":{"field":"hemi","type":"nominal","scale":{"domain":["N. Hemisphere","S. Hemisphere"],"range":["#000000","#0000ff"]},"legend":{"title":null,"orient":"none","legendX":261,"legendY":418,"fillColor":"white","strokeColor":"#262626","padding":3,"cornerRadius":0,"labelFont":"Liberation Sans","labelFontSize":16,"labelColor":"#262626","labelExpr":"datum.label+'  '","symbolType":"M-1,-1H1V1H-1ZM-0.12,-2.4H0.12V2.4H-0.12Z","symbolSize":49,"symbolOffset":23,"labelOffset":24,"rowPadding":0}}
}},
{"mark":{"type":"point","shape":"square","filled":true,"size":42,"opacity":1},
"encoding":{
"x":{"field":"rl","type":"quantitative","scale":{"type":"log","domain":[40,40000],"nice":false},"axis":{"orient":"top","title":null,"values":[40,50,60,70,80,90,100,200,300,400,500,600,700,800,900,1000,2000,3000,4000,5000,6000,7000,8000,9000,10000,20000,30000,40000],"labels":false,"grid":false,"tickSize":{"condition":{"test":"indexof([100,1000,10000],datum.value)>=0","value":-7},"value":-4}}},
"y":{"field":"lat","type":"quantitative","scale":{"domain":[0,90.37],"nice":false},"axis":{"orient":"right","title":null,"values":[0,10,20,30,40,50,60,70,80,90],"labels":false,"grid":false,"tickSize":-7}},
"color":{"field":"hemi","type":"nominal","scale":{"domain":["N. Hemisphere","S. Hemisphere"],"range":["#000000","#0000ff"]},"legend":{"title":null,"orient":"none","legendX":261,"legendY":418,"fillColor":"white","strokeColor":"#262626","padding":3,"cornerRadius":0,"labelFont":"Liberation Sans","labelFontSize":16,"labelColor":"#262626","labelExpr":"datum.label+'  '","symbolType":"M-1,-1H1V1H-1ZM-0.12,-2.4H0.12V2.4H-0.12Z","symbolSize":49,"symbolOffset":23,"labelOffset":24,"rowPadding":0}}
}}
],
"resolve":{"axis":{"x":"independent","y":"independent"}}
},
{"width":568,"height":479,"data":{"name":"cells"},"view":{"fill":"#d9d9d9"},
"title":{"text":"b)","orient":"bottom","anchor":"start","dx":-37,"offset":-12,"font":"Lato","fontSize":30,"fontWeight":"normal","color":"#111111"},
"layer":[
{"mark":{"type":"rect","stroke":null},
"encoding":{
"x":{"field":"mlt","type":"quantitative","bin":{"step":1,"extent":[0,24]},"scale":{"domain":[0,24],"nice":false},"axis":{"orient":"bottom","title":"MLT (h)","titleFont":"Liberation Serif","titleFontSize":23,"values":[0,3,6,9,12,15,18,21,24],"format":"d","tickSize":-6,"labelPadding":17,"titlePadding":4,"grid":false}},
"y":{"field":"lat","type":"quantitative","bin":{"step":3.3333333333,"extent":[0,90]},"scale":{"domain":[0,90],"nice":false},"axis":{"orient":"left","title":"Abs. CGM latitude, |λ| (°)","values":[0,10,20,30,40,50,60,70,80,90],"format":"d","tickSize":-6,"labelPadding":13,"titlePadding":11,"grid":false}},
"color":{"field":"p","type":"quantitative","scale":{"domain":[0,0.2,0.6,1.05,1.48,1.7],"range":["#ffffff","#b0c0ff","#00ffff","#ffff00","#ff0000","#800000"],"interpolate":"rgb"},"legend":null}
}},
{"mark":{"type":"rect","opacity":0},
"encoding":{
"x":{"field":"mlt","type":"quantitative","bin":{"step":1,"extent":[0,24]},"scale":{"domain":[0,24],"nice":false},"axis":{"orient":"top","title":null,"values":[0,3,6,9,12,15,18,21,24],"labels":false,"tickSize":-6,"grid":false}},
"y":{"field":"lat","type":"quantitative","bin":{"step":3.3333333333,"extent":[0,90]},"scale":{"domain":[0,90],"nice":false},"axis":{"orient":"right","title":null,"values":[0,10,20,30,40,50,60,70,80,90],"labels":false,"tickSize":-6,"grid":false}}
}}
],
"resolve":{"axis":{"x":"independent","y":"independent"}}
},
{"width":32,"height":479,"data":{"name":"ramp"},"view":{"stroke":"#262626","strokeWidth":2},
"title":{"text":"×10⁻³","anchor":"start","dx":34,"offset":7,"font":"Liberation Sans","fontSize":18,"fontWeight":"normal","color":"#262626"},
"layer":[
{"mark":{"type":"rect","stroke":null},
"encoding":{
"x":{"value":0},"x2":{"value":32},
"y":{"field":"p","type":"quantitative","bin":{"step":0.025,"extent":[0,1.7]},"scale":{"domain":[0,1.7],"nice":false},"axis":{"orient":"right","title":"P(> P₉₉.₉₇) deg.⁻¹ h⁻¹","titleAngle":270,"titleBaseline":"top","titleFont":"Liberation Serif","titleFontStyle":"italic","titleFontSize":17,"values":[0,0.2,0.4,0.6,0.8,1,1.2,1.4,1.6],"labelExpr":"datum.value==0?'0':datum.value==1?'1':format(datum.value,'.1f')","labelFontSize":17,"tickSize":-6,"labelPadding":12,"titlePadding":7,"grid":false,"domain":true}},
"color":{"field":"p","type":"quantitative","scale":{"domain":[0,0.2,0.6,1.05,1.48,1.7],"range":["#ffffff","#b0c0ff","#00ffff","#ffff00","#ff0000","#800000"],"interpolate":"rgb"},"legend":null}
}}
]
}
]}
